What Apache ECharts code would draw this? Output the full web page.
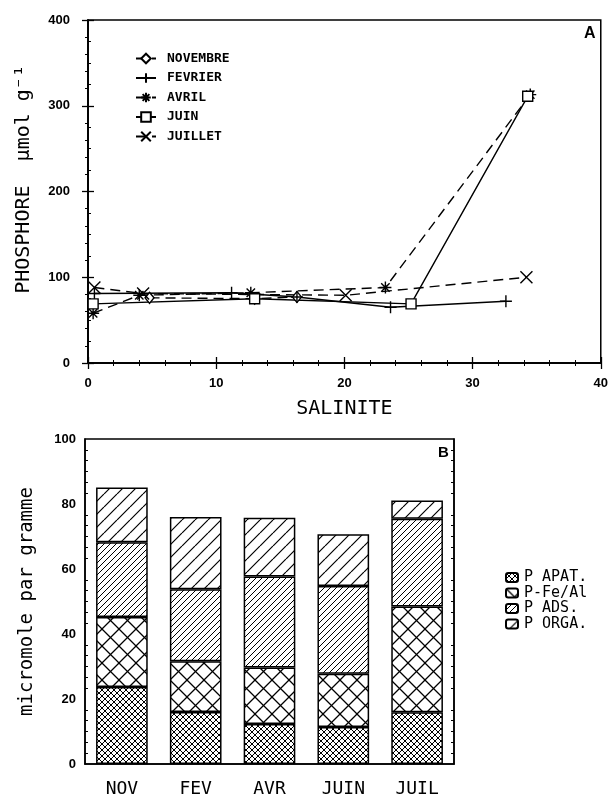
<!DOCTYPE html>
<html>
<head>
<meta charset="utf-8">
<script src="https://cdn.jsdelivr.net/npm/echarts@6/dist/echarts.min.js"></script>
<style>
html, body { margin: 0; padding: 0; background: #fff; }
#main { width: 611px; height: 799px; }
</style>
</head>
<body>
<div id="main"></div>
<script>
// ---------- panneau A : phosphore vs salinite ----------
var moisNoms = ['NOVEMBRE', 'FEVRIER', 'AVRIL', 'JUIN', 'JUILLET'];
var novembre = [[4.8, 76], [13.0, 75], [16.3, 77]];
var fevrier = [[0.5, 81], [11.2, 82], [16.3, 77], [23.6, 65], [32.6, 72]];
var avril = [[0.4, 58], [4.0, 79], [12.7, 82], [23.2, 88], [34.5, 313]];
var juin = [[0.4, 69], [13.0, 75], [25.2, 69], [34.3, 311]];
var juillet = [[0.5, 88], [4.3, 81], [20.1, 79], [34.2, 100]];

// ---------- panneau B : fractions du phosphore ----------
var moisCourts = ['NOV', 'FEV', 'AVR', 'JUIN', 'JUIL'];
var fractions = ['P APAT.', 'P-Fe/Al', 'P ADS.', 'P ORGA.'];
var pApat = [23.7, 16.0, 12.3, 11.4, 15.9];
var pFeAl = [21.5, 15.6, 17.4, 16.4, 32.6];
var pAds = [23.0, 22.2, 28.0, 27.0, 27.0];
var pOrga = [16.9, 22.2, 18.1, 15.9, 5.6];

// motifs de hachures (canvas)
function motif(taille, sens, ep) {
	var c = document.createElement('canvas');
	c.width = taille; c.height = taille;
	var g = c.getContext('2d');
	g.fillStyle = '#fff';
	g.fillRect(0, 0, taille, taille);
	g.strokeStyle = '#000';
	g.lineWidth = ep;
	sens.forEach(function(d) {
		g.beginPath();
		for (var k = -1; k <= 1; k++) {
			if (d == '/') {
				g.moveTo(k * taille, taille);
				g.lineTo(k * taille + taille, 0);
			} else {
				g.moveTo(k * taille, 0);
				g.lineTo(k * taille + taille, taille);
			}
		}
		g.stroke();
	});
	return { image: c, repeat: 'repeat' };
}
var motifs = [
	motif(6, ['/', '\\'], 1),
	motif(17, ['/', '\\'], 1.3),
	motif(6, ['/'], 1),
	motif(13, ['/'], 1.2)
];
var valeursB = [pApat, pFeAl, pAds, pOrga];

var symboles = [
	'diamond',
	'path://M0,6H12M6,0V12',
	'path://M0,6H12M6,0V12M1.8,1.8L10.2,10.2M10.2,1.8L1.8,10.2',
	'rect',
	'path://M0,0L12,12M12,0L0,12'
];
var tirets = ['dashed', 'solid', 'dashed', 'solid', 'dashed'];
var donneesA = [novembre, fevrier, avril, juin, juillet];

var policeChiffres = 'Liberation Sans';
var policeMono = 'DejaVu Sans Mono';

var series = [];
for (var i = 0; i < 5; i++) {
	series.push({
		name: moisNoms[i],
		type: 'line',
		xAxisIndex: 0,
		yAxisIndex: 0,
		data: donneesA[i],
		symbol: symboles[i],
		symbolSize: i == 3 ? 10 : (i == 0 ? [9, 11] : 12),
		showAllSymbol: true,
		lineStyle: { color: '#000', width: 1.4, type: tirets[i] == 'dashed' ? [10, 6] : 'solid' },
		itemStyle: { color: '#fff', borderColor: '#000', borderWidth: 1.4 },
		emphasis: { disabled: true },
		z: 3
	});
}
for (var j = 0; j < 4; j++) {
	series.push({
		name: fractions[j],
		type: 'bar',
		stack: 'total',
		xAxisIndex: 2,
		yAxisIndex: 2,
		barWidth: '70%',
		data: valeursB[j],
		itemStyle: { color: motifs[j], borderColor: '#000', borderWidth: 1.5 },
		emphasis: { disabled: true }
	});
}

var tickLab = { color: '#000', fontFamily: policeChiffres, fontWeight: 'bold', fontSize: 13 };
var ligneNoire = { show: true, lineStyle: { color: '#000', width: 1.5 } };

var option = {
	animation: false,
	backgroundColor: '#fff',
	grid: [
		{ left: 88, top: 20, width: 514, height: 343, show: true, borderColor: '#000', borderWidth: 1.5 },
		{ left: 85, top: 439, width: 369, height: 325, show: true, borderColor: '#000', borderWidth: 1.5 }
	],
	legend: [
		{
			data: moisNoms,
			orient: 'vertical',
			left: 130,
			top: 47,
			itemWidth: 20,
			itemHeight: 12,
			itemGap: 6.5,
			textStyle: { color: '#000', fontFamily: policeMono, fontWeight: 'bold', fontSize: 13, padding: [0, 0, 0, 6] }
		},
		{
			data: fractions,
			orient: 'vertical',
			left: 500,
			top: 565,
			itemWidth: 12,
			itemHeight: 9,
			itemGap: 0.5,
			textStyle: { color: '#000', fontFamily: policeMono, fontSize: 15, lineHeight: 9, padding: [0, 0, 0, 1] }
		}
	],
	xAxis: [
		{
			gridIndex: 0, type: 'value', min: 0, max: 40, interval: 10,
			name: 'SALINITE', nameLocation: 'middle', nameGap: 36,
			nameTextStyle: { color: '#000', fontFamily: policeMono, fontSize: 20 },
			axisLine: ligneNoire,
			axisTick: { inside: true, length: 6, lineStyle: { color: '#000', width: 1.3 } },
			minorTick: { show: true, splitNumber: 5, length: 3, lineStyle: { color: '#000' } },
			axisLabel: Object.assign({ margin: 14 }, tickLab),
			splitLine: { show: false }
		},
		{
			gridIndex: 0, type: 'value', min: 0, max: 40, interval: 10, position: 'top',
			axisLine: ligneNoire,
			axisTick: { inside: true, length: 6, lineStyle: { color: '#000', width: 1.3 } },
			minorTick: { show: true, splitNumber: 5, length: 3, lineStyle: { color: '#000' } },
			axisLabel: { show: false },
			splitLine: { show: false }
		},
		{
			gridIndex: 1, type: 'category', data: moisCourts,
			axisLine: ligneNoire,
			axisTick: { show: false },
			axisLabel: { color: '#000', fontFamily: policeMono, fontSize: 18, margin: 16 },
			splitLine: { show: false }
		}
	],
	yAxis: [
		{
			gridIndex: 0, type: 'value', min: 0, max: 400, interval: 100,
			name: '  PHOSPHORE  μmol g⁻¹', nameLocation: 'middle', nameGap: 54,
			nameTextStyle: { color: '#000', fontFamily: policeMono, fontSize: 20 },
			axisLine: ligneNoire,
			axisTick: { inside: true, length: 6, lineStyle: { color: '#000', width: 1.3 } },
			minorTick: { show: true, splitNumber: 4, length: 3, lineStyle: { color: '#000' } },
			axisLabel: Object.assign({ margin: 18 }, tickLab),
			splitLine: { show: false }
		},
		{
			gridIndex: 0, type: 'value', min: 0, max: 400, interval: 100, position: 'right',
			axisLine: ligneNoire,
			axisTick: { inside: true, length: 6, lineStyle: { color: '#000', width: 1.3 } },
			minorTick: { show: true, splitNumber: 5, length: 3, lineStyle: { color: '#000' } },
			axisLabel: { show: false },
			splitLine: { show: false }
		},
		{
			gridIndex: 1, type: 'value', min: 0, max: 100, interval: 20,
			name: 'micromole par gramme', nameLocation: 'middle', nameGap: 48,
			nameTextStyle: { color: '#000', fontFamily: policeMono, fontSize: 19 },
			axisLine: ligneNoire,
			axisTick: { inside: true, length: 6, lineStyle: { color: '#000', width: 1.3 } },
			minorTick: { show: true, splitNumber: 6, length: 3, lineStyle: { color: '#000' } },
			axisLabel: Object.assign({ margin: 9 }, tickLab),
			splitLine: { show: false }
		},
		{
			gridIndex: 1, type: 'value', min: 0, max: 100, interval: 20, position: 'right',
			axisLine: ligneNoire,
			axisTick: { inside: true, length: 6, lineStyle: { color: '#000', width: 1.3 } },
			minorTick: { show: true, splitNumber: 6, length: 3, lineStyle: { color: '#000' } },
			axisLabel: { show: false },
			splitLine: { show: false }
		}
	],
	graphic: [
		{ type: 'text', left: 584, top: 26, style: { text: 'A', fill: '#000', font: 'bold 16px Liberation Sans' } },
		{ type: 'text', left: 438, top: 445, style: { text: 'B', fill: '#000', font: 'bold 15px Liberation Sans' } }
	],
	series: series
};

var myChart = echarts.init(document.getElementById('main'), null, { renderer: 'canvas' });
myChart.setOption(option);
</script>
</body>
</html>
